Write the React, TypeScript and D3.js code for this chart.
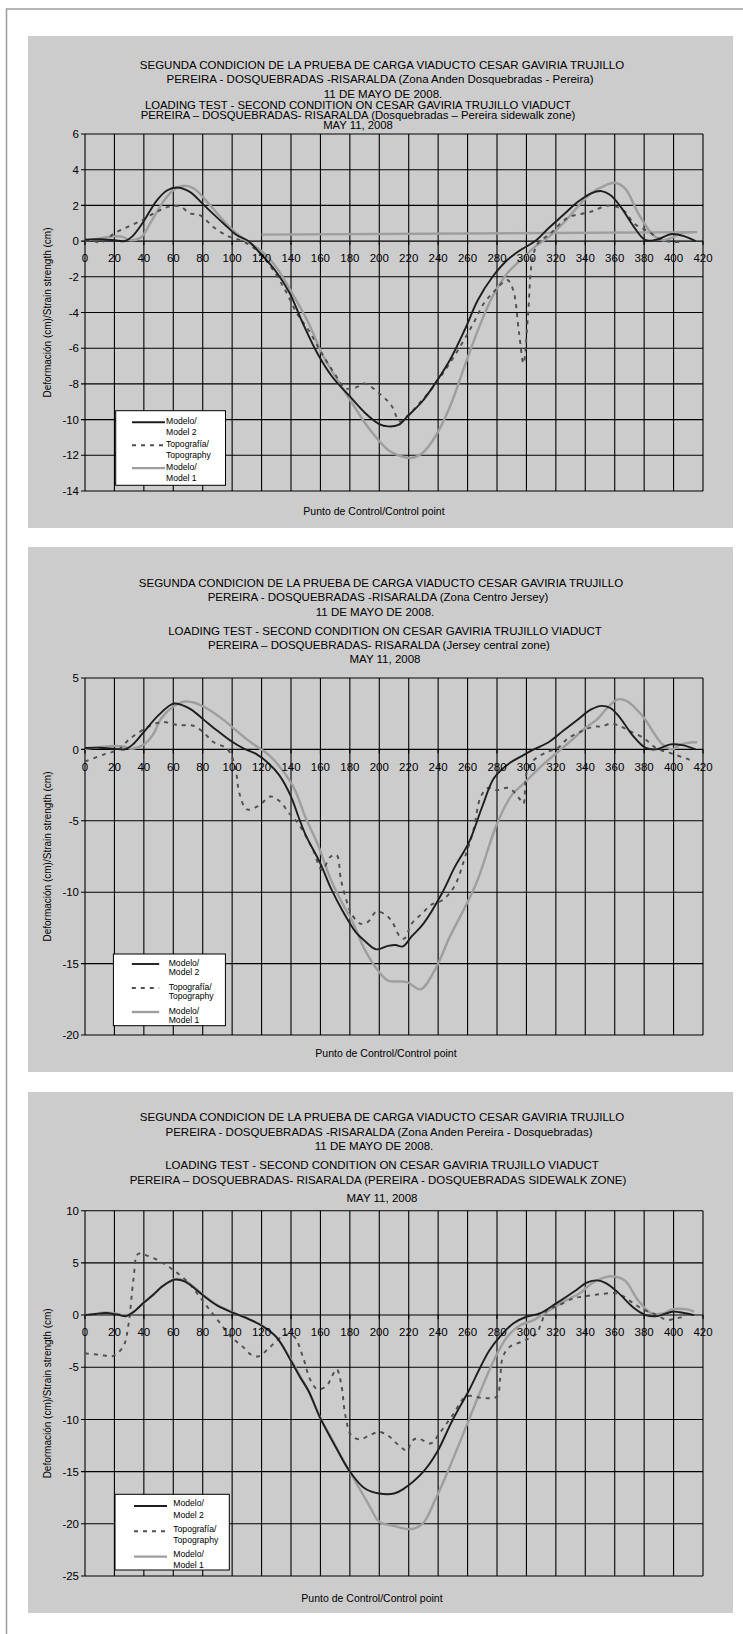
import React from "react";
import * as d3 from "d3";

type Pt = [number, number];

// ---------- shared labels ----------
const xTicks: number[] = d3.range(0, 421, 20);
const legendLabels: string[][] = [
  ["Modelo/", "Model 2"],
  ["Topografía/", "Topography"],
  ["Modelo/", "Model 1"],
];
const yAxisTitle = "Deformación (cm)/Strain strength (cm)";
const xAxisTitle = "Punto de Control/Control point";

// ---------- panel 1 ----------
const p1Titles: string[] = [
  "SEGUNDA CONDICION DE LA PRUEBA DE CARGA VIADUCTO CESAR GAVIRIA TRUJILLO",
  "PEREIRA - DOSQUEBRADAS -RISARALDA (Zona Anden Dosquebradas - Pereira)",
  "11 DE MAYO DE 2008.",
  "LOADING TEST - SECOND CONDITION ON CESAR GAVIRIA TRUJILLO VIADUCT",
  "PEREIRA – DOSQUEBRADAS- RISARALDA (Dosquebradas – Pereira sidewalk zone)",
  "MAY 11, 2008",
];
const p1YTicks: number[] = [6, 4, 2, 0, -2, -4, -6, -8, -10, -12, -14];
const p1Model2: Pt[] = [
  [0, 0.08], [10, 0.1], [20, 0.05], [27, 0], [32, 0.25], [39, 1.0], [49, 2.3], [56, 2.85], [62, 3.0],
  [71, 2.77], [81, 2.0], [94, 1.0], [103, 0.34], [111, 0], [119, -0.68], [129, -1.62], [139, -2.9],
  [148, -4.6], [158, -6.3], [168, -7.6], [180, -8.7], [190, -9.6], [200, -10.25], [206, -10.38],
  [213, -10.3], [219, -9.83], [229, -9.0], [238, -7.97], [248, -6.66], [258, -4.98], [267, -3.3],
  [277, -2.0], [287, -1.06], [296, -0.5], [306, 0], [315, 0.72], [325, 1.46], [335, 2.2], [344, 2.68],
  [351, 2.8], [357, 2.58], [364, 1.93], [373, 0.8], [381, 0.05], [389, 0.1], [399, 0.4], [408, 0.25],
  [415, 0],
];
const p1Topo: Pt[] = [
  [0, 0], [5, 0.02], [10, -0.08], [14, 0.05], [20, 0.44], [29, 0.8], [39, 1.18], [49, 1.65], [57, 1.93],
  [65, 1.93], [71, 1.56], [78, 1.46], [87, 0.81], [97, 0.28], [107, 0], [116, -0.47], [126, -1.4],
  [136, -2.74], [144, -4.05], [152, -5.0], [161, -6.3], [171, -7.6], [177, -8.25], [184, -8.2],
  [190, -7.97], [200, -8.53], [208, -9.18], [214, -10.1], [219, -9.8], [226, -9.2], [235, -8.34],
  [245, -7.2], [255, -5.9], [264, -4.6], [271, -3.5], [279, -2.74], [287, -2.18], [291, -2.74],
  [295, -5.16], [298, -6.85], [301, -4.23], [304, -1.06], [308, -0.1], [316, 0.4], [328, 1.3],
  [344, 1.65], [354, 1.97], [361, 1.93], [367, 1.65], [373, 1.0], [383, 0.53], [391, 0.1], [399, -0.05],
  [406, -0.05],
];
const p1Model1: Pt[] = [
  [0, 0.05], [8, 0.12], [17, 0.25], [25, 0.25], [31, 0.05], [38, 0.2], [45, 1.1], [54, 2.3], [60, 2.85],
  [66, 3.09], [74, 2.95], [84, 2.1], [97, 0.9], [108, 0.1], [119, -0.5], [129, -1.35], [142, -3.1],
  [152, -4.6], [161, -6.3], [171, -7.7], [181, -9.0], [193, -10.5], [206, -11.7], [216, -12.08],
  [222, -12.15], [229, -11.9], [238, -10.96], [248, -9.28], [258, -7.0], [267, -5.0], [277, -3.1],
  [287, -1.8], [296, -1.06], [306, -0.31], [315, 0.22], [325, 1.0], [335, 1.93], [344, 2.68],
  [354, 3.14], [360, 3.27], [367, 2.95], [376, 1.56], [386, 0.35], [393, 0.05], [399, 0.2], [405, 0.44],
  [413, 0.5], [416, 0.5],
];
const p1Model1Return: Pt[] = [[120, 0.36], [414, 0.5]];

// ---------- panel 2 ----------
const p2Titles: string[] = [
  "SEGUNDA CONDICION DE LA PRUEBA DE CARGA VIADUCTO CESAR GAVIRIA TRUJILLO",
  "PEREIRA - DOSQUEBRADAS -RISARALDA (Zona Centro Jersey)",
  "11 DE MAYO DE 2008.",
  "LOADING TEST - SECOND CONDITION ON CESAR GAVIRIA TRUJILLO VIADUCT",
  "PEREIRA – DOSQUEBRADAS- RISARALDA (Jersey central zone)",
  "MAY 11, 2008",
];
const p2YTicks: number[] = [5, 0, -5, -10, -15, -20];
const p2Model2: Pt[] = [
  [0, 0.1], [10, 0.12], [20, 0.05], [27, 0], [32, 0.3], [39, 1.1], [50, 2.4], [60, 3.2], [66, 3.1],
  [72, 2.8], [81, 2.05], [90, 1.3], [100, 0.53], [108, 0.05], [116, -0.3], [125, -1.0], [132, -1.8],
  [140, -3.3], [145, -4.7], [150, -6.0], [160, -8.0], [167, -9.7], [175, -11.3], [184, -12.8],
  [190, -13.4], [198, -14.0], [206, -13.76], [211, -13.7], [216, -13.8], [222, -13.1], [230, -12.2],
  [243, -10.0], [251, -8.3], [261, -6.5], [270, -4.0], [278, -2.0], [288, -1.0], [298, -0.4], [305, 0],
  [315, 0.5], [325, 1.3], [335, 2.1], [344, 2.8], [351, 3.05], [357, 2.9], [363, 2.3], [372, 1.0],
  [381, 0.1], [388, 0.0], [398, 0.35], [406, 0.3], [415, 0.0],
];
const p2Topo: Pt[] = [
  [0, -0.85], [13, -0.35], [23, 0], [30, 0.7], [39, 1.35], [49, 1.85], [55, 1.9], [63, 1.7], [74, 1.65],
  [81, 1.14], [87, 0.53], [97, 0], [102, -1.2], [105, -3.1], [110, -4.2], [118, -3.95], [126, -3.3],
  [132, -3.6], [139, -4.5], [145, -5.2], [155, -7.05], [161, -8.45], [167, -7.5], [171, -7.4],
  [174, -9.15], [179, -11.0], [181, -11.5], [187, -12.2], [192, -12.1], [198, -11.37], [203, -11.5],
  [208, -11.95], [214, -13.1], [217, -13.25], [222, -12.2], [229, -11.5], [235, -10.9], [243, -10.55],
  [251, -9.6], [259, -7.3], [264, -5.65], [269, -3.3], [274, -2.7], [280, -2.85], [288, -2.7],
  [296, -3.55], [298, -3.8], [300, -1.7], [304, -0.85], [312, -0.28], [322, 0.15], [328, 0.75],
  [338, 1.3], [346, 1.6], [351, 1.6], [357, 1.8], [362, 1.7], [370, 1.3], [380, 0.77], [388, 0.1],
  [399, -0.3], [409, -0.65], [414, -0.85],
];
const p2Model1: Pt[] = [
  [0, 0.05], [10, 0.15], [20, 0.25], [26, 0.2], [32, 0.05], [40, 0.35], [46, 1.0], [52, 2.2], [60, 3.0],
  [68, 3.35], [75, 3.25], [84, 2.8], [95, 2.0], [103, 1.3], [110, 0.7], [116, 0.25], [125, -0.4],
  [133, -1.3], [142, -2.7], [150, -4.8], [158, -6.6], [167, -9.1], [175, -10.8], [182, -12.1],
  [190, -14.0], [200, -15.6], [206, -16.2], [212, -16.25], [219, -16.3], [228, -16.8], [238, -15.4],
  [248, -13.1], [259, -10.9], [267, -9.1], [280, -5.2], [290, -3.2], [298, -2.4], [312, -1.0],
  [328, 0.4], [340, 1.5], [348, 2.1], [355, 2.9], [362, 3.5], [368, 3.4], [373, 3.0], [380, 2.2],
  [392, 0.4], [399, 0.0], [405, 0.35], [413, 0.5], [416, 0.5],
];

// ---------- panel 3 ----------
const p3Titles: string[] = [
  "SEGUNDA CONDICION DE LA PRUEBA DE CARGA VIADUCTO CESAR GAVIRIA TRUJILLO",
  "PEREIRA - DOSQUEBRADAS -RISARALDA (Zona Anden Pereira - Dosquebradas)",
  "11 DE MAYO DE 2008.",
  "LOADING TEST - SECOND CONDITION ON CESAR GAVIRIA TRUJILLO VIADUCT",
  "PEREIRA – DOSQUEBRADAS- RISARALDA (PEREIRA - DOSQUEBRADAS SIDEWALK ZONE)",
  "MAY 11, 2008",
];
const p3YTicks: number[] = [10, 5, 0, -5, -10, -15, -20, -25];
const p3Model2: Pt[] = [
  [0, 0], [7, 0.1], [14, 0.2], [22, 0.05], [28, -0.1], [33, 0.3], [40, 1.2], [46, 1.9], [53, 2.8],
  [61, 3.4], [68, 3.2], [81, 1.8], [90, 0.9], [100, 0.25], [110, -0.3], [120, -1.0], [130, -2.1],
  [140, -4.4], [146, -5.9], [152, -7.3], [160, -9.9], [171, -12.8], [180, -15.0], [190, -16.6],
  [200, -17.1], [210, -17.1], [216, -16.7], [230, -15.0], [239, -13.2], [250, -10.0], [261, -7.2],
  [269, -4.9], [275, -3.35], [282, -2.07], [291, -0.8], [300, -0.16], [309, 0.16], [320, 1.1],
  [334, 2.4], [341, 3.1], [348, 3.32], [354, 3.07], [362, 2.2], [372, 0.8], [381, 0], [389, -0.1],
  [399, 0.32], [407, 0.2], [414, 0],
];
const p3Topo: Pt[] = [
  [0, -3.67], [10, -3.8], [19, -3.92], [26, -3.0], [29.5, -0.96], [33, 3.5], [36, 5.85], [42, 5.7],
  [52, 5.06], [62, 4.1], [71, 3.0], [78, 1.74], [84, 0.63], [91, -0.63], [99, -2.06], [107, -3.0],
  [113, -3.8], [118, -3.96], [124, -3.3], [131, -2.37], [136, -1.9], [142, -2.06], [148, -3.96],
  [153, -6.17], [158, -7.1], [164, -6.8], [171, -5.2], [174, -6.5], [177, -9.65], [181, -11.55],
  [187, -11.9], [193, -11.55], [200, -11.2], [206, -11.55], [211, -12.2], [216, -12.8], [219, -13.0],
  [222, -12.1], [226, -11.8], [235, -12.3], [241, -11.3], [250, -9.55], [259, -7.8], [271, -7.96],
  [280, -7.8], [282, -6.2], [284, -4.0], [289, -3.0], [297, -2.55], [302, -2.2], [307, -1.75],
  [310, -0.8], [314, 0.48], [320, 0.8], [332, 1.6], [340, 1.8], [350, 2.0], [360, 2.1], [366, 1.8],
  [372, 1.2], [380, 0.5], [387, 0.1], [396, -0.47], [402, -0.3], [409, -0.16],
];
const p3Model1: Pt[] = [
  [0, 0], [7, 0.12], [14, 0.25], [22, 0.1], [28, -0.05], [33, 0.3], [40, 1.2], [46, 1.9], [53, 2.8],
  [61, 3.45], [68, 3.3], [81, 1.85], [90, 0.95], [100, 0.28], [110, -0.3], [120, -1.0], [130, -2.1],
  [140, -4.3], [146, -5.8], [152, -7.3], [160, -9.9], [166, -11.4], [174, -13.5], [184, -16.0],
  [193, -18.2], [200, -19.8], [210, -20.2], [222, -20.5], [230, -19.9], [238, -17.7], [248, -14.5],
  [260, -10.35], [269, -7.2], [278, -4.3], [287, -2.07], [296, -0.96], [305, -0.48], [314, 0.32],
  [327, 1.43], [336, 2.07], [344, 3.0], [354, 3.64], [360, 3.7], [367, 3.3], [376, 1.4], [385, 0.16],
  [393, 0.16], [399, 0.54], [409, 0.54], [414, 0.32],
];

// ---------- layout (positions / styles) ----------
const FONT = "'Liberation Sans', Arial, Helvetica, sans-serif";
const PLOT_L = 85;
const PLOT_R = 703;

interface PanelCfg {
  titles: string[];
  titleY: number[];
  titleX: number[];
  titleSize: number[];
  bgTop: number;
  bgBottom: number;
  yTicks: number[];
  plotTop: number;
  plotBottom: number;
  series: { model2: Pt[]; topo: Pt[]; model1: Pt[]; extra?: Pt[] };
  legend: { x0: number; x1: number; y0: number; y1: number; lx0: number; lx1: number; tx: number; row0: number; step: number; d1: number; d2: number };
  xTitleX: number;
  xTitleY: number;
}

const panels: PanelCfg[] = [
  {
    titles: p1Titles,
    titleY: [64.5, 79, 93.5, 104.5, 115, 125],
    titleX: [382, 380, 383, 358, 358, 358],
    titleSize: [11.5, 11.5, 11.5, 11.3, 11.3, 11.3],
    bgTop: 36, bgBottom: 528,
    yTicks: p1YTicks, plotTop: 134, plotBottom: 491,
    series: { model2: p1Model2, topo: p1Topo, model1: p1Model1, extra: p1Model1Return },
    legend: { x0: 115.7, x1: 225.5, y0: 410.7, y1: 485.3, lx0: 132, lx1: 165, tx: 166, row0: 422.3, step: 22.9, d1: -1, d2: 9.5 },
    xTitleX: 374, xTitleY: 511,
  },
  {
    titles: p2Titles,
    titleY: [583, 597, 612, 631, 645, 659],
    titleX: [381, 378, 375, 385, 379, 385],
    titleSize: [11.5, 11.5, 11.5, 11.5, 11.5, 11.5],
    bgTop: 547, bgBottom: 1072,
    yTicks: p2YTicks, plotTop: 678, plotBottom: 1035,
    series: { model2: p2Model2, topo: p2Topo, model1: p2Model1 },
    legend: { x0: 113.4, x1: 225.4, y0: 954, y1: 1025.7, lx0: 131.8, lx1: 159.2, tx: 168.7, row0: 964, step: 24, d1: -1.5, d2: 7.5 },
    xTitleX: 386, xTitleY: 1053,
  },
  {
    titles: p3Titles,
    titleY: [1116.7, 1131.7, 1146, 1165, 1180, 1198],
    titleX: [382, 379, 374, 382, 378, 382],
    titleSize: [11.5, 11.5, 11.5, 11.5, 11.5, 11.5],
    bgTop: 1092, bgBottom: 1613,
    yTicks: p3YTicks, plotTop: 1210.7, plotBottom: 1576,
    series: { model2: p3Model2, topo: p3Topo, model1: p3Model1 },
    legend: { x0: 115, x1: 229.3, y0: 1494.3, y1: 1570, lx0: 134, lx1: 167, tx: 173.3, row0: 1506, step: 25.3, d1: -2.7, d2: 8.7 },
    xTitleX: 372, xTitleY: 1598,
  },
];

const STYLE_M2 = { stroke: "#1e1e1e", width: 1.9, dash: undefined as string | undefined };
const STYLE_TOPO = { stroke: "#505050", width: 1.9, dash: "4 5" };
const STYLE_M1 = { stroke: "#9e9e9e", width: 2.4, dash: undefined as string | undefined };
const legendStyles = [STYLE_M2, STYLE_TOPO, STYLE_M1];

function Panel({ cfg }: { cfg: PanelCfg }) {
  const yMax = d3.max(cfg.yTicks) as number;
  const yMin = d3.min(cfg.yTicks) as number;
  const x = d3.scaleLinear().domain([0, 420]).range([PLOT_L, PLOT_R]);
  const y = d3.scaleLinear().domain([yMin, yMax]).range([cfg.plotBottom, cfg.plotTop]);
  const line = d3
    .line<Pt>()
    .x((d) => x(d[0]))
    .y((d) => y(d[1]))
    .curve(d3.curveCatmullRom.alpha(0.5));
  const straight = d3
    .line<Pt>()
    .x((d) => x(d[0]))
    .y((d) => y(d[1]));
  const y0 = y(0);
  const L = cfg.legend;
  const midY = (cfg.plotTop + cfg.plotBottom) / 2;

  return (
    <g>
      <rect x={28} y={cfg.bgTop} width={705} height={cfg.bgBottom - cfg.bgTop} fill="#cccccc" />
      {cfg.titles.map((t, i) => (
        <text key={i} x={cfg.titleX[i]} y={cfg.titleY[i]} dy="0.36em" textAnchor="middle" fontSize={cfg.titleSize[i]} fill="#000">
          {t}
        </text>
      ))}
      {/* grid */}
      {cfg.yTicks.map((v) => (
        <line key={"h" + v} x1={PLOT_L - 4} x2={PLOT_R} y1={y(v)} y2={y(v)} stroke="#000" strokeWidth={1.1} />
      ))}
      {xTicks.map((v) => (
        <line key={"v" + v} x1={x(v)} x2={x(v)} y1={cfg.plotTop} y2={cfg.plotBottom} stroke="#000" strokeWidth={1.1} />
      ))}
      {xTicks.map((v) => (
        <line key={"t" + v} x1={x(v)} x2={x(v)} y1={y0} y2={y0 + 4} stroke="#000" strokeWidth={1.1} />
      ))}
      {/* y tick labels */}
      {cfg.yTicks.map((v) => (
        <text key={"yl" + v} x={PLOT_L - 6} y={y(v)} dy="0.36em" textAnchor="end" fontSize={11.5}>
          {v}
        </text>
      ))}
      {/* series */}
      <path d={line(cfg.series.model1) || ""} fill="none" stroke={STYLE_M1.stroke} strokeWidth={STYLE_M1.width} />
      {cfg.series.extra && (
        <path d={straight(cfg.series.extra) || ""} fill="none" stroke={STYLE_M1.stroke} strokeWidth={STYLE_M1.width} />
      )}
      <path d={line(cfg.series.topo) || ""} fill="none" stroke={STYLE_TOPO.stroke} strokeWidth={STYLE_TOPO.width} strokeDasharray={STYLE_TOPO.dash} />
      <path d={line(cfg.series.model2) || ""} fill="none" stroke={STYLE_M2.stroke} strokeWidth={STYLE_M2.width} />
      {/* x tick labels (drawn over lines) */}
      {xTicks.map((v) => (
        <text key={"xl" + v} x={x(v)} y={y0 + 17} dy="0.36em" textAnchor="middle" fontSize={11.5}>
          {v}
        </text>
      ))}
      {/* legend */}
      <rect x={L.x0} y={L.y0} width={L.x1 - L.x0} height={L.y1 - L.y0} fill="#fff" stroke="#000" strokeWidth={1} />
      {legendLabels.map((lab, i) => {
        const ry = L.row0 + i * L.step;
        const st = legendStyles[i];
        return (
          <g key={"lg" + i}>
            <line x1={L.lx0} x2={L.lx1} y1={ry} y2={ry} stroke={st.stroke} strokeWidth={st.width} strokeDasharray={st.dash} />
            <text x={L.tx} y={ry + L.d1} dy="0.36em" fontSize={8.6}>{lab[0]}</text>
            <text x={L.tx} y={ry + L.d2} dy="0.36em" fontSize={8.6}>{lab[1]}</text>
          </g>
        );
      })}
      {/* axis titles */}
      <text x={cfg.xTitleX} y={cfg.xTitleY} dy="0.36em" textAnchor="middle" fontSize={10.5}>
        {xAxisTitle}
      </text>
      <text transform={`translate(47,${midY}) rotate(-90)`} dy="0.36em" textAnchor="middle" fontSize={10}>
        {yAxisTitle}
      </text>
    </g>
  );
}

export default function App() {
  return (
    <div style={{ position: "absolute", left: 0, top: 0 }}>
      <svg width={743} height={1634} viewBox="0 0 743 1634" style={{ display: "block", fontFamily: FONT, background: "#fff" }}>
        <rect x={6.5} y={9} width={900} height={1800} fill="none" stroke="#9d9d9d" strokeWidth={1.5} />
        {panels.map((p, i) => (
          <Panel key={i} cfg={p} />
        ))}
      </svg>
    </div>
  );
}
